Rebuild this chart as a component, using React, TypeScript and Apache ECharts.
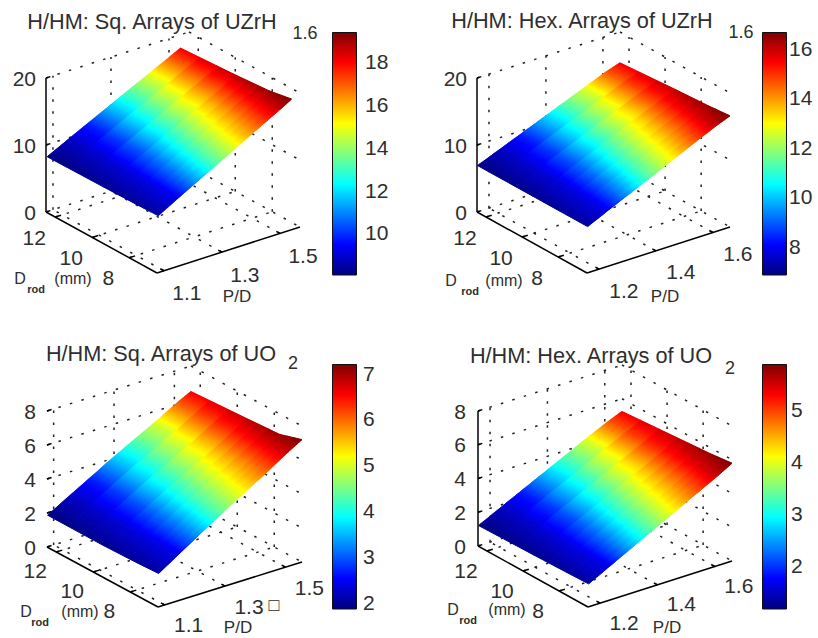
import React, { useEffect, useRef } from "react";
import * as echarts from "echarts";

// ---------- data ----------
const sqPitch = [1.08, 1.15, 1.22, 1.29, 1.36, 1.43, 1.5, 1.54];
const sqUOPitch = [1.08, 1.15, 1.22, 1.29, 1.365, 1.44, 1.51, 1.555];
const hexPitch = [1.16, 1.235, 1.31, 1.385, 1.46, 1.535, 1.61, 1.66];
const sqRods = [6.5, 7.7, 9.5, 12.5];
const hexRods = [6.4, 7.6, 9.45, 12.5];

const sqUZrHHeight = [
  [8.5, 10.2, 11.85, 13.5, 15.2, 16.85, 18.5, 19.5],
  [8.4, 10.0, 11.6, 13.2, 14.8, 16.4, 18.0, 18.9],
  [8.3, 9.85, 11.4, 12.95, 14.5, 16.05, 17.6, 18.5],
  [8.2, 9.7, 11.2, 12.7, 14.2, 15.65, 17.15, 18.0],
];
const hexUZrHHeight = [
  [6.9, 8.4, 9.85, 11.3, 12.8, 14.3, 15.75, 16.6],
  [6.9, 8.35, 9.8, 11.2, 12.65, 14.1, 15.5, 16.3],
  [6.9, 8.3, 9.68, 11.05, 12.45, 13.85, 15.2, 16.0],
  [6.9, 8.2, 9.5, 10.8, 12.1, 13.4, 14.7, 15.4],
];
const sqUOHeight = [
  [1.96, 2.76, 3.55, 4.35, 5.15, 5.95, 6.74, 7.2],
  [1.9, 2.68, 3.45, 4.2, 4.95, 5.7, 6.42, 6.8],
  [1.85, 2.58, 3.3, 4.02, 4.75, 5.47, 6.2, 6.68],
  [1.86, 2.57, 3.27, 3.98, 4.69, 5.39, 6.1, 6.5],
];
const hexUOHeight = [
  [1.36, 2.02, 2.68, 3.34, 4.0, 4.66, 5.32, 5.8],
  [1.32, 1.97, 2.61, 3.25, 3.9, 4.55, 5.2, 5.65],
  [1.27, 1.9, 2.52, 3.14, 3.76, 4.38, 5.0, 5.5],
  [1.2, 1.83, 2.45, 3.07, 3.69, 4.31, 4.9, 5.25],
];

// colour values: first row at the smallest rod, second at the largest
const sqUZrHColour = [
  [8.37, 9.28, 11.33, 13.37, 15.14, 16.9, 18.6, 19.4],
  [8.03, 8.71, 9.62, 11.33, 13.03, 14.62, 16.78, 17.92],
];
const hexUZrHColour = [
  [7.14, 7.93, 9.69, 11.46, 12.98, 14.5, 15.97, 16.66],
  [6.85, 7.44, 8.22, 9.69, 11.17, 12.54, 14.4, 15.38],
];
const sqUOColour = [
  [2.01, 2.44, 3.4, 4.36, 5.19, 6.02, 6.83, 7.2],
  [1.85, 2.17, 2.6, 3.4, 4.2, 4.95, 5.97, 6.5],
];
const hexUOColour = [
  [1.31, 1.69, 2.54, 3.38, 4.11, 4.84, 5.55, 5.88],
  [1.17, 1.45, 1.83, 2.54, 3.24, 3.9, 4.8, 5.27],
];

const sqPitchTicks = [1.1, 1.3, 1.5];
const hexPitchTicks = [1.2, 1.4, 1.6];
const rodTicks = [8, 10, 12];
const uzrhHeightTicks = [0, 10, 20];
const uoHeightTicks = [0, 2, 4, 6, 8];

const sqUZrHBar = [8.03, 19.4];
const hexUZrHBar = [6.85, 16.66];
const sqUOBar = [1.85, 7.2];
const hexUOBar = [1.17, 5.88];
const sqUZrHBarTicks = [10, 12, 14, 16, 18];
const hexUZrHBarTicks = [8, 10, 12, 14, 16];
const sqUOBarTicks = [2, 3, 4, 5, 6, 7];
const hexUOBarTicks = [2, 3, 4, 5];

const titles = [
  "H/HM: Sq. Arrays of UZrH",
  "H/HM: Hex. Arrays of UZrH",
  "H/HM: Sq. Arrays of UO",
  "H/HM: Hex. Arrays of UO",
];
const strayLabels = ["1.6", "1.6", "2", "2"];

// ---------- layout ----------
const FONT = '"Liberation Sans", Arial, sans-serif';
const INK = "#2e2e2e";

const panels = [
  {
    box: [0, 0, 410, 320], title: [152, 21], stray: [305, 33],
    left: [46, 212], front: [157, 273], right: [300, 227], zTop: 78,
    pRange: [1.076, 1.569], dRange: [6.5, 12.5], zMax: 20, zLine: true,
    zLabelGap: 10, dOff: [-21, 20], pOff: [23, 22],
    dLabel: [20, 278], subLabel: [36, 289], mmLabel: [73, 278], pdLabel: [237, 296],
    bar: [332, 32, 25, 243], barMargin: 8, extra: null as any,
  },
  {
    box: [410, 0, 408, 320], title: [582, 20], stray: [741, 32],
    left: [477, 212], front: [587, 273], right: [730, 227], zTop: 78,
    pRange: [1.158, 1.66], dRange: [6.4, 12.5], zMax: 20, zLine: true,
    zLabelGap: 10, dOff: [-21, 20], pOff: [25, 21],
    dLabel: [451, 280], subLabel: [470, 291], mmLabel: [504, 280], pdLabel: [665, 296],
    bar: [762, 32, 25, 243], barMargin: 2, extra: null as any,
  },
  {
    box: [0, 320, 410, 318], title: [161, 353], stray: [293, 363],
    left: [47, 547], front: [158, 607], right: [302, 562], zTop: 411,
    pRange: [1.078, 1.555], dRange: [6.5, 12.5], zMax: 8, zLine: false,
    zLabelGap: 11, dOff: [-21, 18], pOff: [24, 20],
    dLabel: [26, 611], subLabel: [40, 622], mmLabel: [80, 611], pdLabel: [238, 627],
    bar: [332, 364, 25, 245], barMargin: 6, extra: [274, 605] as any,
  },
  {
    box: [410, 320, 408, 318], title: [591, 355], stray: [730, 368],
    left: [478, 546], front: [588, 607], right: [732, 561], zTop: 411,
    pRange: [1.158, 1.66], dRange: [6.4, 12.5], zMax: 8, zLine: true,
    zLabelGap: 12, dOff: [-21, 19], pOff: [24, 19],
    dLabel: [453, 609], subLabel: [468, 620], mmLabel: [507, 609], pdLabel: [667, 627],
    bar: [762, 364, 25, 245], barMargin: 4, extra: null as any,
  },
];

const panelData = [
  { pitch: sqPitch, rods: sqRods, height: sqUZrHHeight, colour: sqUZrHColour, pTicks: sqPitchTicks, zTicks: uzrhHeightTicks, barRange: sqUZrHBar, barTicks: sqUZrHBarTicks },
  { pitch: hexPitch, rods: hexRods, height: hexUZrHHeight, colour: hexUZrHColour, pTicks: hexPitchTicks, zTicks: uzrhHeightTicks, barRange: hexUZrHBar, barTicks: hexUZrHBarTicks },
  { pitch: sqUOPitch, rods: sqRods, height: sqUOHeight, colour: sqUOColour, pTicks: sqPitchTicks, zTicks: uoHeightTicks, barRange: sqUOBar, barTicks: sqUOBarTicks },
  { pitch: hexPitch, rods: hexRods, height: hexUOHeight, colour: hexUOColour, pTicks: hexPitchTicks, zTicks: uoHeightTicks, barRange: hexUOBar, barTicks: hexUOBarTicks },
];

const jetStops: [number, string][] = [
  [0, "#000080"],
  [0.125, "#0000ff"],
  [0.375, "#00ffff"],
  [0.625, "#ffff00"],
  [0.875, "#ff0000"],
  [1, "#800000"],
];

function jet(t: number): string {
  const v = Math.max(0, Math.min(1, t));
  const hex = (s: string) => [1, 3, 5].map((k) => parseInt(s.slice(k, k + 2), 16));
  for (let k = 1; k < jetStops.length; k++) {
    if (v <= jetStops[k][0]) {
      const [t0, c0] = jetStops[k - 1];
      const [t1, c1] = jetStops[k];
      const a = (v - t0) / (t1 - t0);
      const A = hex(c0);
      const B = hex(c1);
      return `rgb(${A.map((x, n) => Math.round(x + (B[n] - x) * a)).join(",")})`;
    }
  }
  return jetStops[jetStops.length - 1][1];
}

type Panel = (typeof panels)[number];

function project(p: Panel, P: number, D: number, z: number): [number, number] {
  const u = (P - p.pRange[0]) / (p.pRange[1] - p.pRange[0]);
  const v = (p.dRange[1] - D) / (p.dRange[1] - p.dRange[0]);
  const zPx = (p.left[1] - p.zTop) / p.zMax;
  return [
    p.left[0] + u * (p.right[0] - p.front[0]) + v * (p.front[0] - p.left[0]),
    p.left[1] + u * (p.right[1] - p.front[1]) + v * (p.front[1] - p.left[1]) - z * zPx,
  ];
}

const lerp = (a: number, b: number, t: number) => a + (b - a) * t;

function buildOption() {
  const grid: any[] = [];
  const xAxis: any[] = [];
  const yAxis: any[] = [];
  const series: any[] = [];
  const graphic: any[] = [];

  const text = (s: string, x: number, y: number, size: number, align = "center", weight = "") =>
    graphic.push({
      type: "text",
      silent: true,
      style: {
        text: s, x, y, fill: INK, font: `${weight} ${size}px ${FONT}`,
        align, verticalAlign: "middle", textAlign: align, textVerticalAlign: "middle",
      },
    });

  panels.forEach((p, n) => {
    const d = panelData[n];
    const [pMin, pMax] = p.pRange;
    const [dMin, dMax] = p.dRange;
    grid[n] = { left: p.box[0], top: p.box[1], width: p.box[2], height: p.box[3] };
    xAxis[n] = { type: "value", gridIndex: n, min: p.box[0], max: p.box[0] + p.box[2], show: false };
    yAxis[n] = { type: "value", gridIndex: n, min: p.box[1], max: p.box[1] + p.box[3], inverse: true, show: false };

    // dotted box grid
    const dotted: number[][] = [];
    d.zTicks.forEach((z) => {
      dotted.push([pMin, dMax, z, pMax, dMax, z]);
      dotted.push([pMax, dMax, z, pMax, dMin, z]);
    });
    d.pTicks.forEach((t) => {
      dotted.push([t, dMax, 0, t, dMax, p.zMax]);
      dotted.push([t, dMin, 0, t, dMax, 0]);
    });
    rodTicks.forEach((t) => {
      dotted.push([pMax, t, 0, pMax, t, p.zMax]);
      dotted.push([pMin, t, 0, pMax, t, 0]);
    });

    // solid axes and their ticks
    const solid: number[][] = [
      [pMin, dMax, 0, pMin, dMin, 0],
      [pMin, dMin, 0, pMax, dMin, 0],
    ];
    if (p.zLine) solid.push([pMin, dMax, 0, pMin, dMax, p.zMax]);
    d.zTicks.forEach((z) => solid.push([pMin, dMax, z, pMin + 0.015, dMax, z]));
    d.pTicks.forEach((t) => solid.push([t, dMin, 0, t, dMin + 0.2, 0]));
    rodTicks.forEach((t) => solid.push([pMin, t, 0, pMin + 0.02, t, 0]));

    const lineSeries = (data: number[][], style: any, z: number) => ({
      type: "custom",
      xAxisIndex: n,
      yAxisIndex: n,
      coordinateSystem: "cartesian2d",
      silent: true,
      clip: false,
      z,
      data,
      renderItem: (params: any, api: any) => {
        const l = data[params.dataIndex];
        const a = api.coord(project(p, l[0], l[1], l[2]));
        const b = api.coord(project(p, l[3], l[4], l[5]));
        return {
          type: "line",
          shape: { x1: a[0], y1: a[1], x2: b[0], y2: b[1] },
          style: { fill: null, ...style },
        };
      },
    });
    series.push(lineSeries(dotted, { stroke: "#222", lineWidth: 1.5, lineDash: [2.5, 9.5] }, 1));
    series.push(lineSeries(solid, { stroke: "#000", lineWidth: 1.5 }, 2));

    // surface, shaded smoothly between the read values
    const cells: number[][] = [];
    for (let j = 0; j < d.rods.length - 1; j++) {
      for (let i = 0; i < d.pitch.length - 1; i++) {
        cells.push([d.pitch[i], d.rods[j], d.height[j][i], i, j]);
      }
    }
    const SUB_P = 20;
    const SUB_D = 3;
    const [cLo, cHi] = d.barRange;
    series.push({
      type: "custom",
      xAxisIndex: n,
      yAxisIndex: n,
      coordinateSystem: "cartesian2d",
      silent: true,
      clip: false,
      z: 3,
      data: cells,
      renderItem: (params: any, api: any) => {
        const [, , , i, j] = cells[params.dataIndex];
        const at = (a: number, b: number) => {
          const P = lerp(d.pitch[i], d.pitch[i + 1], a);
          const D = lerp(d.rods[j], d.rods[j + 1], b);
          const z = lerp(
            lerp(d.height[j][i], d.height[j][i + 1], a),
            lerp(d.height[j + 1][i], d.height[j + 1][i + 1], a),
            b
          );
          return api.coord(project(p, P, D, z));
        };
        const colourAt = (a: number, b: number) => {
          const D = lerp(d.rods[j], d.rods[j + 1], b);
          const m = (D - d.rods[0]) / (d.rods[d.rods.length - 1] - d.rods[0]);
          const c = lerp(
            lerp(d.colour[0][i], d.colour[0][i + 1], a),
            lerp(d.colour[1][i], d.colour[1][i + 1], a),
            m
          );
          return jet((c - cLo) / (cHi - cLo));
        };
        const children: any[] = [];
        for (let s = 0; s < SUB_P; s++) {
          for (let r = 0; r < SUB_D; r++) {
            const a0 = s / SUB_P;
            const a1 = (s + 1) / SUB_P;
            const b0 = r / SUB_D;
            const b1 = (r + 1) / SUB_D;
            const col = colourAt((a0 + a1) / 2, (b0 + b1) / 2);
            children.push({
              type: "polygon",
              shape: { points: [at(a0, b0), at(a1, b0), at(a1, b1), at(a0, b1)] },
              style: { fill: col, stroke: col, lineWidth: 1 },
            });
          }
        }
        return { type: "group", children };
      },
    });

    // colour bar: its own grid, axis and gradient bar
    const g = 4 + n;
    grid[g] = { left: p.bar[0], top: p.bar[1], width: p.bar[2], height: p.bar[3] };
    xAxis[g] = { type: "category", gridIndex: g, data: ["H/HM"], show: false };
    yAxis[g] = {
      type: "value",
      gridIndex: g,
      position: "right",
      min: cLo,
      max: cHi,
      splitLine: { show: false },
      axisLine: { show: false },
      axisTick: {
        show: true, inside: true, length: 4, customValues: d.barTicks,
        lineStyle: { color: "#000", width: 1 },
      },
      axisLabel: {
        show: true, inside: false, customValues: d.barTicks, margin: p.barMargin,
        color: INK, fontFamily: FONT, fontSize: 21,
      },
    };
    series.push({
      type: "bar",
      xAxisIndex: g,
      yAxisIndex: g,
      silent: true,
      barWidth: "100%",
      z: 1,
      data: [cHi],
      itemStyle: {
        borderColor: "#111",
        borderWidth: 1,
        color: new echarts.graphic.LinearGradient(
          0, 1, 0, 0,
          jetStops.map(([offset, color]) => ({ offset, color }))
        ),
      },
    });

    // texts
    text(titles[n], p.title[0], p.title[1], 21.7);
    text(strayLabels[n], p.stray[0], p.stray[1], 18);
    d.zTicks.forEach((z) => {
      const q = project(p, pMin, dMax, z);
      text(String(z), q[0] - p.zLabelGap, q[1], 21, "right");
    });
    rodTicks.forEach((t) => {
      const q = project(p, pMin, t, 0);
      text(String(t), q[0] + p.dOff[0], q[1] + p.dOff[1], 21);
    });
    d.pTicks.forEach((t) => {
      const q = project(p, t, dMin, 0);
      text(t.toFixed(1), q[0] + p.pOff[0], q[1] + p.pOff[1], 21);
    });
    text("D", p.dLabel[0], p.dLabel[1], 16);
    text("rod", p.subLabel[0], p.subLabel[1], 11, "center", "bold");
    text("(mm)", p.mmLabel[0], p.mmLabel[1], 16);
    text("P/D", p.pdLabel[0], p.pdLabel[1], 17);
    if (p.extra) text("\u25A1", p.extra[0], p.extra[1], 18);
  });

  return { animation: false, backgroundColor: "#ffffff", tooltip: { show: false }, grid, xAxis, yAxis, series, graphic };
}

export default function App() {
  const ref = useRef<HTMLDivElement>(null);
  useEffect(() => {
    document.body.style.margin = "0";
    const chart = echarts.init(ref.current!, null, { renderer: "svg" });
    chart.setOption(buildOption() as any);
    return () => chart.dispose();
  }, []);
  return <div ref={ref} style={{ width: 818, height: 638 }} />;
}
